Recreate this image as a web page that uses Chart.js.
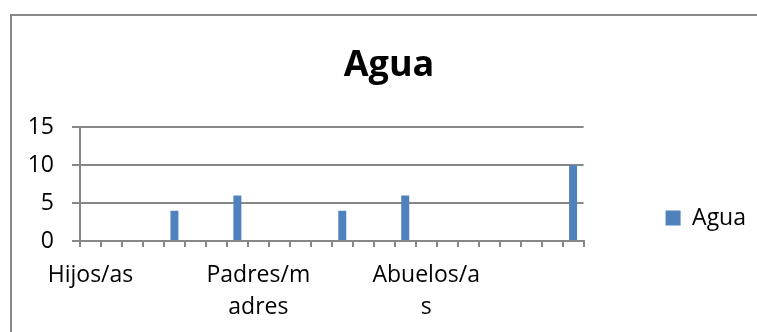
<!DOCTYPE html>
<html>
<head>
<meta charset="utf-8">
<script src="https://cdn.jsdelivr.net/npm/chart.js@4"></script>
<style>
  html, body { margin: 0; padding: 0; background: #fff; overflow: hidden; }
  #wrap { position: relative; width: 757px; height: 332px; }
  #frame { position: absolute; left: 10px; top: 14px; width: 800px; height: 400px;
           border-left: 2px solid #898989; border-top: 2px solid #898989; }
  #c { position: absolute; left: 0; top: 0; }
</style>
</head>
<body>
<div id="wrap">
  <div id="frame"></div>
  <canvas id="c" width="757" height="332"></canvas>
</div>
<script>
// Category labels (only every eighth one carries a name)
const categories = [
  'Hijos/as', '', '', '', '', '', '', '',
  ['Padres/m', 'adres'], '', '', '', '', '', '', '',
  ['Abuelos/a', 's'], '', '', '', '', '', '', ''
];
// "Agua" series, one value per category (empty where nothing was recorded)
const aguaValues = [
  null, null, null, null, 4, null, null, 6,
  null, null, null, null, 4, null, null, 6,
  null, null, null, null, null, null, null, 10
];
const seriesName = 'Agua';
const chartTitle = 'Agua';
const yTicks = { min: 0, max: 15, step: 5 };

const GRID = '#878787';
const FONT = "'Open Sans', sans-serif";

// Moves the legend down so it sits level with the lower half of the plot
const legendShift = {
  id: 'legendShift',
  afterLayout(chart) {
    const lg = chart.legend;
    if (lg) { lg.top += 34; lg.bottom += 34; }
  }
};

new Chart(document.getElementById('c'), {
  type: 'bar',
  data: {
    labels: categories,
    datasets: [{
      label: seriesName,
      data: aguaValues,
      backgroundColor: '#4f81bd',
      borderWidth: 0,
      barPercentage: 0.38,
      categoryPercentage: 1
    }]
  },
  plugins: [legendShift],
  options: {
    responsive: false,
    animation: false,
    devicePixelRatio: 1,
    layout: { padding: { left: 22, right: 1, top: 0, bottom: 0 } },
    plugins: {
      title: {
        display: true,
        text: chartTitle,
        color: '#000',
        font: { family: FONT, size: 36, weight: 'bold', lineHeight: 1.2 },
        padding: { top: 44, bottom: 40 }
      },
      legend: {
        position: 'right',
        fullSize: false,
        labels: {
          color: '#000',
          font: { family: FONT, size: 23 },
          boxWidth: 15,
          boxHeight: 15,
          padding: 82
        }
      },
      tooltip: { enabled: false }
    },
    scales: {
      x: {
        offset: true,
        grid: {
          display: true,
          offset: true,
          drawOnChartArea: false,
          drawTicks: true,
          tickLength: 6,
          color: GRID,
          lineWidth: 2
        },
        border: { display: true, color: GRID, width: 2 },
        ticks: {
          autoSkip: false,
          maxRotation: 0,
          minRotation: 0,
          padding: 12,
          color: '#000',
          font: { family: FONT, size: 23, lineHeight: 32 / 23 }
        },
        afterFit(scale) { scale.height = 91; }
      },
      y: {
        min: yTicks.min,
        max: yTicks.max,
        grid: {
          color: GRID,
          lineWidth: 2,
          drawTicks: true,
          tickLength: 8
        },
        border: { display: true, color: GRID, width: 2 },
        ticks: {
          stepSize: yTicks.step,
          padding: 18,
          color: '#000',
          font: { family: FONT, size: 23 }
        },
        afterFit(scale) { scale.width = 58; }
      }
    }
  }
});
</script>
</body>
</html>
